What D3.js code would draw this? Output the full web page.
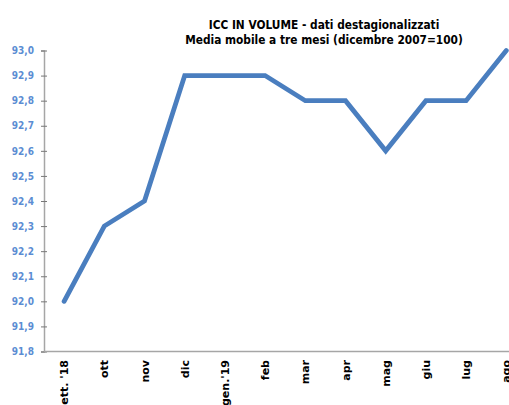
<!DOCTYPE html>
<html>
<head>
<meta charset="utf-8">
<script src="https://cdn.jsdelivr.net/npm/d3@7"></script>
<style>
  body { margin: 0; background: #fff; overflow: hidden; }
  svg { display: block; }
</style>
</head>
<body>
<svg width="509" height="405"></svg>
<script>
const months = ['sett. \'18', 'ott', 'nov', 'dic', 'gen.\'19', 'feb', 'mar', 'apr', 'mag', 'giu', 'lug', 'ago'];
const values = [92.0, 92.3, 92.4, 92.9, 92.9, 92.9, 92.8, 92.8, 92.6, 92.8, 92.8, 93.0];
const yTicks = [91.8, 91.9, 92.0, 92.1, 92.2, 92.3, 92.4, 92.5, 92.6, 92.7, 92.8, 92.9, 93.0];
const titleLines = ['ICC IN VOLUME - dati destagionalizzati', 'Media mobile a tre mesi (dicembre 2007=100)'];

const svg = d3.select('svg');

const x = d3.scaleBand()
    .domain(months)
    .range([44, 44 + 12 * 40.2]);

const y = d3.scaleLinear()
    .domain([91.8, 93.0])
    .range([351.5, 50.5]);

// title
svg.append('g')
  .selectAll('text')
  .data(titleLines)
  .enter().append('text')
    .attr('x', 324)
    .attr('y', function(d, i) { return 29 + i * 15; })
    .attr('text-anchor', 'middle')
    .attr('font-family', 'DejaVu Sans Condensed, sans-serif')
    .attr('font-weight', 'bold')
    .attr('font-size', '11.8px')
    .attr('fill', '#000')
    .text(function(d) { return d; });

// y axis
const yAxis = svg.append('g')
    .attr('transform', 'translate(44,0)')
    .call(d3.axisLeft(y)
      .tickValues(yTicks)
      .tickSize(3)
      .tickPadding(7)
      .tickFormat(function(d) { return d3.format('.1f')(d).replace('.', ','); }));
yAxis.select('.domain').attr('stroke', '#a6a6a6').attr('stroke-width', 1.5);
yAxis.selectAll('.tick line').attr('x2', 3).attr('x1', -3).attr('stroke', '#777');
yAxis.selectAll('.tick text')
    .attr('fill', '#5b8dd3')
    .attr('font-weight', 'bold')
    .attr('font-size', '10px')
    .attr('font-family', 'DejaVu Sans Condensed, sans-serif');

// x axis
svg.append('line')
    .attr('x1', 44).attr('x2', 509)
    .attr('y1', y(91.8)).attr('y2', y(91.8))
    .attr('stroke', '#a6a6a6')
    .attr('stroke-width', 1.5);

svg.append('g')
  .selectAll('text')
  .data(months)
  .enter().append('text')
    .attr('transform', function(d) {
      return 'translate(' + (x(d) + x.bandwidth() / 2 + 4) + ',360) rotate(-90)';
    })
    .attr('text-anchor', 'end')
    .attr('font-family', 'DejaVu Sans, Verdana, sans-serif')
    .attr('font-weight', 'bold')
    .attr('font-size', '11px')
    .attr('fill', '#000')
    .text(function(d) { return d; });

// line
const line = d3.line()
    .x(function(d, i) { return x(months[i]) + x.bandwidth() / 2; })
    .y(function(d) { return y(d); });

svg.append('path')
    .datum(values)
    .attr('fill', 'none')
    .attr('stroke', '#4a7ebf')
    .attr('stroke-width', 4.8)
    .attr('stroke-linejoin', 'miter')
    .attr('stroke-linecap', 'round')
    .attr('d', line);
</script>
</body>
</html>
